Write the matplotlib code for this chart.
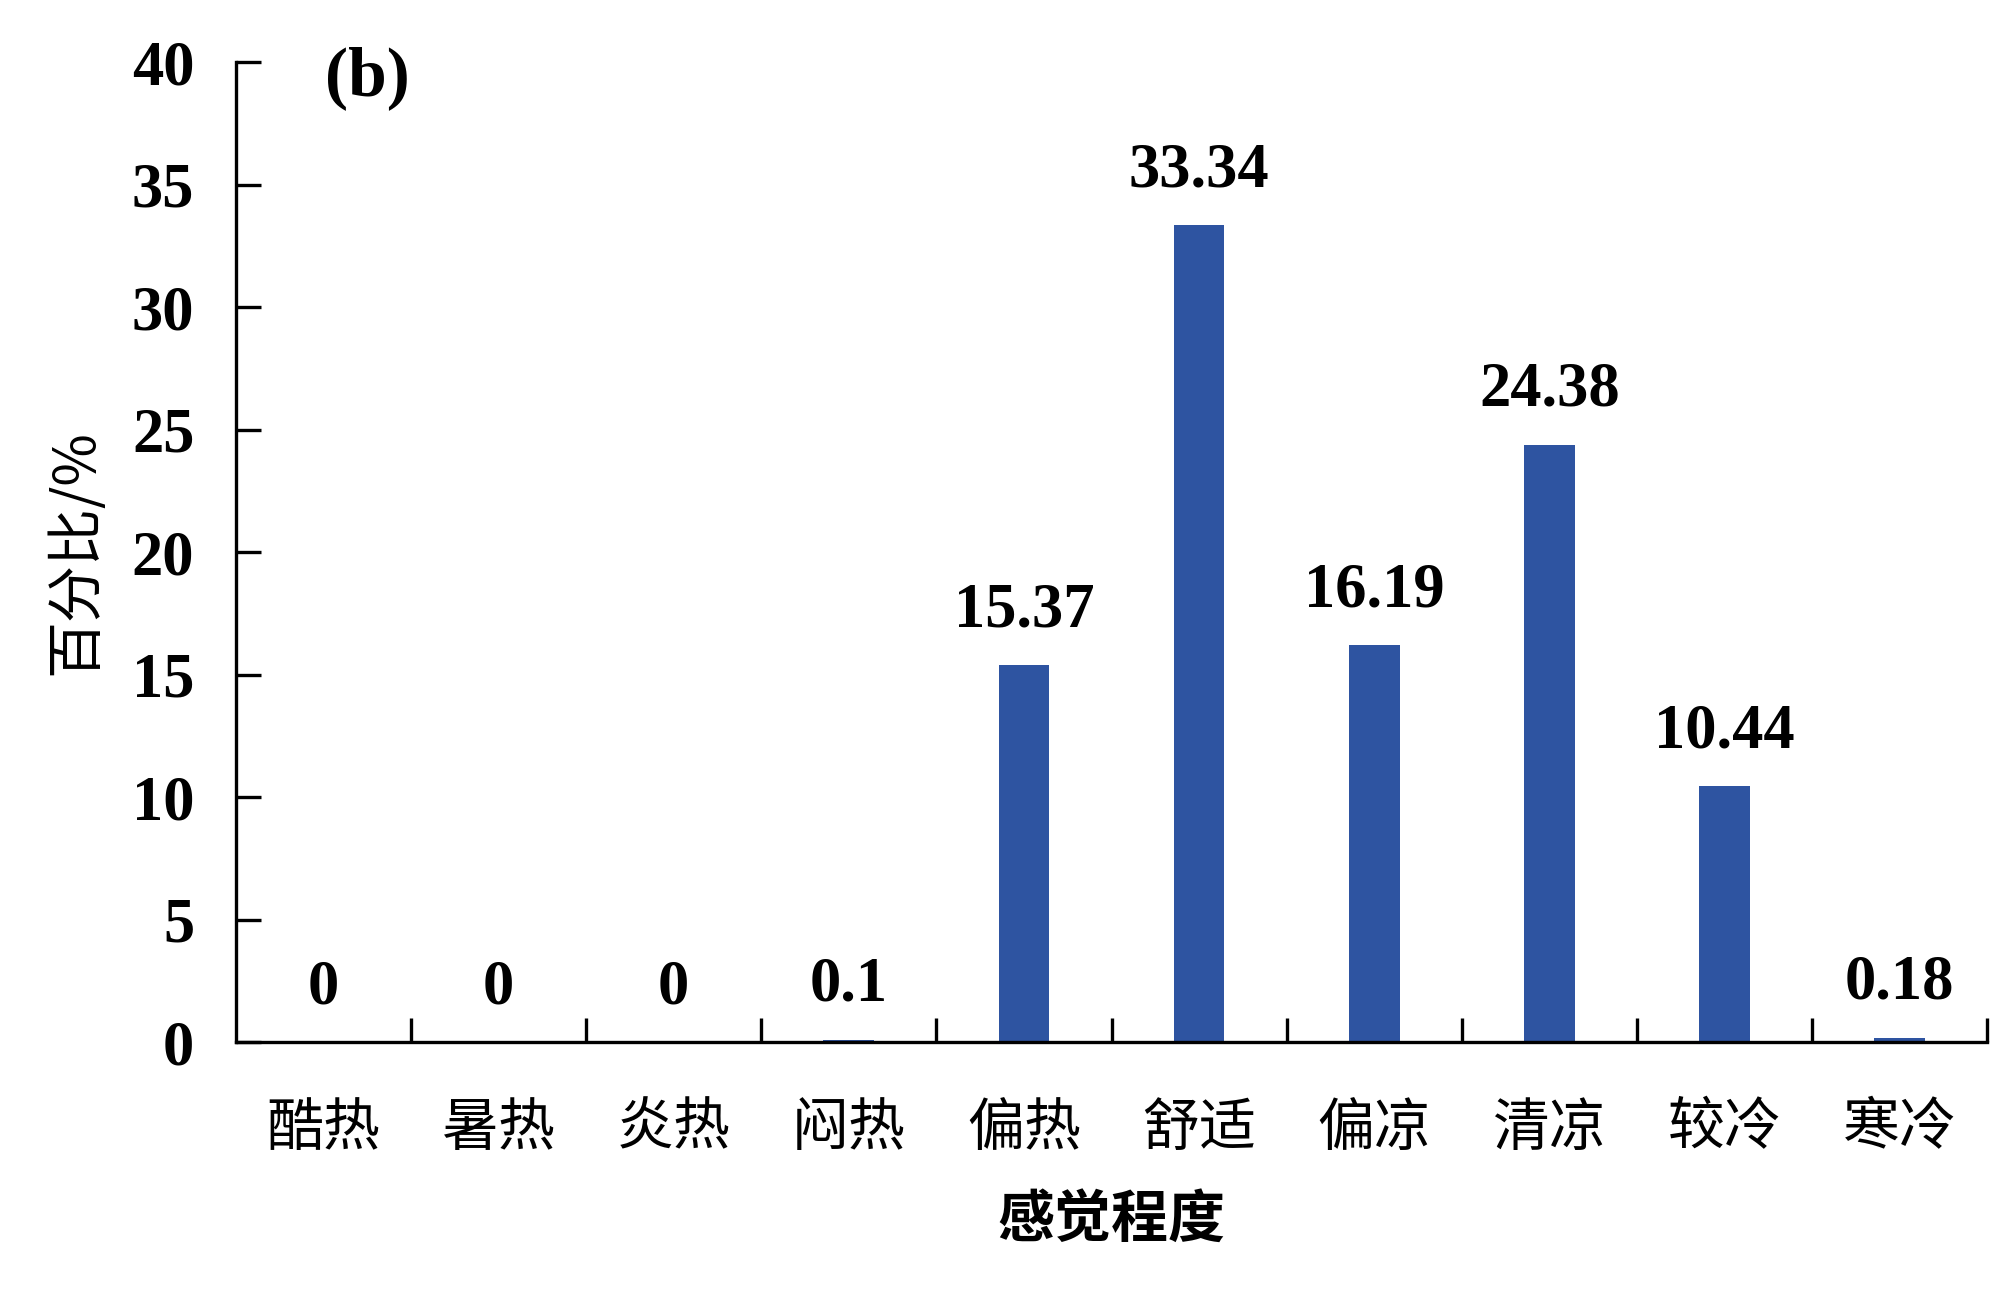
import matplotlib
matplotlib.use("Agg")
import matplotlib.pyplot as plt
from matplotlib.ticker import FixedLocator

categories = ["酷热", "暑热", "炎热", "闷热", "偏热", "舒适", "偏凉", "清凉", "较冷", "寒冷"]
values = [0, 0, 0, 0.1, 15.37, 33.34, 16.19, 24.38, 10.44, 0.18]
value_labels = ["0", "0", "0", "0.1", "15.37", "33.34", "16.19", "24.38", "10.44", "0.18"]
yticks = [0, 5, 10, 15, 20, 25, 30, 35, 40]

serif = ["Liberation Serif", "DejaVu Serif"]
cjk = ["Noto Sans CJK SC", "DejaVu Sans"]

fig = plt.figure(figsize=(20, 12.9), dpi=100)
ax = fig.add_axes([0.118, 0.1922, 0.8755, 0.7597])

x = list(range(len(categories)))
ax.bar(x, values, width=0.29, color="#2E54A1", zorder=2)

for xi, v, lab in zip(x, values, value_labels):
    ax.annotate(lab, (xi, v), xytext=(0, 28), textcoords="offset points",
                ha="center", va="baseline", fontsize=45, fontweight="bold",
                family=serif)

ax.set_xlim(-0.5, 9.5)
ax.set_ylim(0, 40)

ax.set_xticks(x)
ax.set_xticklabels(categories, family=cjk, fontsize=41)
ax.xaxis.set_minor_locator(FixedLocator([i + 0.5 for i in range(10)]))
ax.tick_params(axis="x", which="major", length=0, pad=41)
ax.tick_params(axis="x", which="minor", direction="in", length=17, width=2.4)

ax.set_yticks(yticks)
ax.set_yticklabels([str(t) for t in yticks], family=serif, fontsize=45, fontweight="bold")
ax.tick_params(axis="y", direction="in", length=18, width=2.4, pad=30)

for s in ["top", "right"]:
    ax.spines[s].set_visible(False)
for s in ["left", "bottom"]:
    ax.spines[s].set_linewidth(2.4)

ax.set_ylabel("百分比/%", family=cjk, fontsize=41, labelpad=19)
ax.set_xlabel("感觉程度", family=cjk, fontsize=41, fontweight="bold", labelpad=24)

ax.text(0.075, 0.966, "(b)", transform=ax.transAxes, ha="center", va="baseline",
        fontsize=50, fontweight="bold", family=serif)

fig.savefig("out.png", dpi=100, facecolor="white")
